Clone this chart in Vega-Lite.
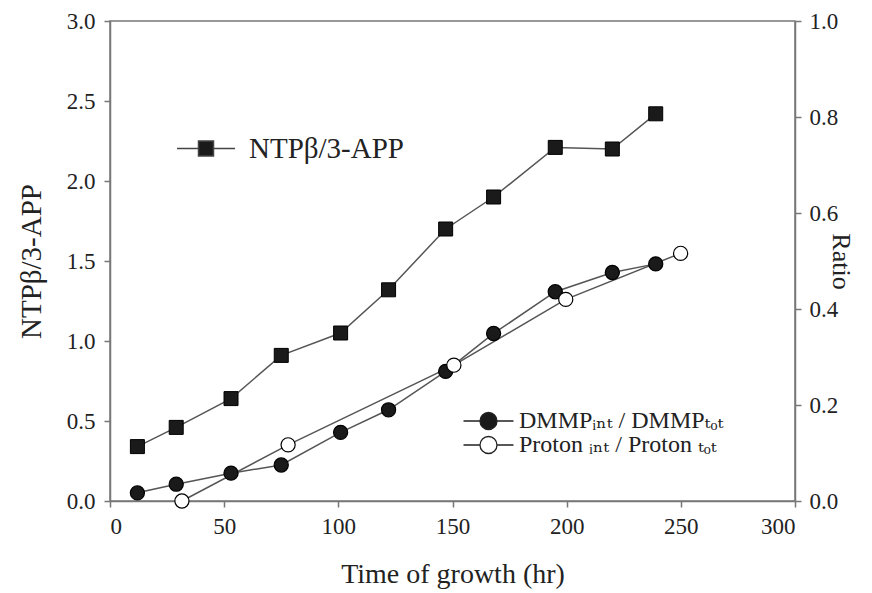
{
  "$schema": "https://vega.github.io/schema/vega-lite/v6.json",
  "autosize": "none",
  "width": 685,
  "height": 480,
  "padding": {"left": 110, "top": 21, "right": 77, "bottom": 92},
  "background": "white",
  "config": {
    "font": "Liberation Serif",
    "view": {"stroke": "#777", "strokeWidth": 1.5},
    "axis": {
      "grid": false,
      "domainColor": "#777",
      "domainWidth": 1.5,
      "tickColor": "#777",
      "tickWidth": 1.5,
      "tickSize": 6,
      "labelFont": "Liberation Serif",
      "labelFontSize": 23,
      "labelColor": "#222",
      "titleFont": "Liberation Serif",
      "titleFontWeight": "normal",
      "titleColor": "#222"
    },
    "legend": {"padding": 0, "labelLimit": 500}
  },
  "datasets": {
    "ntp": [
      {"time": 12, "value": 0.34},
      {"time": 29, "value": 0.46},
      {"time": 53, "value": 0.64},
      {"time": 75, "value": 0.91},
      {"time": 101, "value": 1.05},
      {"time": 122, "value": 1.32},
      {"time": 147, "value": 1.70},
      {"time": 168, "value": 1.90},
      {"time": 195, "value": 2.21},
      {"time": 220, "value": 2.20},
      {"time": 239, "value": 2.42}
    ],
    "ratio": [
      {"series": "DMMPᵢₙₜ / DMMPₜₒₜ", "time": 12, "ratio": 0.017},
      {"series": "DMMPᵢₙₜ / DMMPₜₒₜ", "time": 29, "ratio": 0.035},
      {"series": "DMMPᵢₙₜ / DMMPₜₒₜ", "time": 53, "ratio": 0.058},
      {"series": "DMMPᵢₙₜ / DMMPₜₒₜ", "time": 75, "ratio": 0.075},
      {"series": "DMMPᵢₙₜ / DMMPₜₒₜ", "time": 101, "ratio": 0.143},
      {"series": "DMMPᵢₙₜ / DMMPₜₒₜ", "time": 122, "ratio": 0.19},
      {"series": "DMMPᵢₙₜ / DMMPₜₒₜ", "time": 147, "ratio": 0.27},
      {"series": "DMMPᵢₙₜ / DMMPₜₒₜ", "time": 168, "ratio": 0.349},
      {"series": "DMMPᵢₙₜ / DMMPₜₒₜ", "time": 195, "ratio": 0.436},
      {"series": "DMMPᵢₙₜ / DMMPₜₒₜ", "time": 220, "ratio": 0.476},
      {"series": "DMMPᵢₙₜ / DMMPₜₒₜ", "time": 239, "ratio": 0.494},
      {"series": "Proton ᵢₙₜ / Proton ₜₒₜ", "time": 31.5, "ratio": 0.0},
      {"series": "Proton ᵢₙₜ / Proton ₜₒₜ", "time": 78, "ratio": 0.117},
      {"series": "Proton ᵢₙₜ / Proton ₜₒₜ", "time": 150.6, "ratio": 0.283},
      {"series": "Proton ᵢₙₜ / Proton ₜₒₜ", "time": 199.6, "ratio": 0.42},
      {"series": "Proton ᵢₙₜ / Proton ₜₒₜ", "time": 249.9, "ratio": 0.516}
    ]
  },
  "encoding": {
    "x": {
      "field": "time", "type": "quantitative",
      "scale": {"domain": [0, 300], "nice": false, "zero": false},
      "axis": {
        "values": [0, 50, 100, 150, 200, 250, 300],
        "title": "Time of growth (hr)",
        "titleFontSize": 28,
        "labelFont": "Liberation Serif",
        "labelFontSize": 23,
        "labelPadding": 8,
        "titleY": 73,
        "titleBaseline": "middle"
      }
    }
  },
  "layer": [
    {
      "data": {"name": "ntp"},
      "encoding": {
        "y": {
          "field": "value", "type": "quantitative",
          "scale": {"domain": [0, 3], "nice": false},
          "axis": {
            "orient": "left",
            "values": [0, 0.5, 1, 1.5, 2, 2.5, 3],
            "format": ".1f",
            "title": "NTPβ/3-APP",
            "titleFontSize": 29,
            "labelFont": "Liberation Serif",
            "labelPadding": 9,
            "titleX": -79,
            "titleY": 240,
            "titleBaseline": "middle",
            "titleAngle": -90
          }
        }
      },
      "layer": [
        {
          "mark": {"type": "line", "color": "#555", "strokeWidth": 1.5},
          "encoding": {
            "opacity": {
              "datum": "NTPβ/3-APP",
              "type": "nominal",
              "scale": {"range": [1]},
              "legend": {
                "title": null,
                "orient": "none",
                "legendX": 81.5,
                "legendY": 113,
                "symbolType": "M-3.87,0H-1M1,0H3.87M-1,-1H1V1H-1Z",
                "symbolSize": 225,
                "symbolFillColor": "#1a1a1a",
                "symbolStrokeColor": "#444",
                "symbolStrokeWidth": 1.5,
                "labelFont": "Liberation Serif",
                "labelFontSize": 29,
                "labelColor": "#222",
                "labelOffset": 28.5,
                "encode": {
                  "symbols": {
                    "update": {
                      "shape": {"value": "M-3.87,0H-1M1,0H3.87M-1,-1H1V1H-1Z"},
                      "fill": {"value": "#1a1a1a"},
                      "stroke": {"value": "#444"},
                      "strokeWidth": {"value": 1.5},
                      "opacity": {"value": 1}
                    }
                  }
                }
              }
            }
          }
        },
        {
          "mark": {"type": "point", "shape": "square", "filled": true, "size": 196, "color": "#1a1a1a", "stroke": "#000", "strokeWidth": 1, "opacity": 1}
        }
      ]
    },
    {
      "data": {"name": "ratio"},
      "encoding": {
        "y": {
          "field": "ratio", "type": "quantitative",
          "scale": {"domain": [0, 1], "nice": false},
          "axis": {
            "orient": "right",
            "values": [0, 0.2, 0.4, 0.6, 0.8, 1.0],
            "format": ".1f",
            "title": "Ratio",
            "titleFontSize": 26,
            "labelFont": "Liberation Serif",
            "labelPadding": 8,
            "titleX": 45,
            "titleY": 240,
            "titleBaseline": "middle",
            "titleAngle": 90
          }
        }
      },
      "layer": [
        {"mark": {"type": "line", "color": "#555", "strokeWidth": 1.5}, "encoding": {"detail": {"field": "series"}}},
        {
          "mark": {"type": "point", "shape": "circle", "size": 200, "stroke": "#000", "strokeWidth": 1.2, "opacity": 1},
          "encoding": {
            "fill": {
              "field": "series", "type": "nominal",
              "scale": {"range": ["#1a1a1a", "#ffffff"]},
              "legend": {
                "title": null,
                "orient": "none",
                "legendX": 366.5,
                "legendY": 388,
                "symbolType": "M-2.94,0H-1M1,0H2.94M1,0A1,1 0 1,1 -1,0A1,1 0 1,1 1,0Z",
                "symbolSize": 289,
                "symbolStrokeColor": "#222",
                "symbolStrokeWidth": 1.3,
                "symbolOpacity": 1,
                "labelFont": "Liberation Serif, DejaVu Serif, serif",
                "labelFontSize": 24,
                "labelColor": "#222",
                "labelOffset": 18.5,
                "rowPadding": 0
              }
            }
          }
        }
      ]
    }
  ],
  "resolve": {"scale": {"y": "independent"}}
}
